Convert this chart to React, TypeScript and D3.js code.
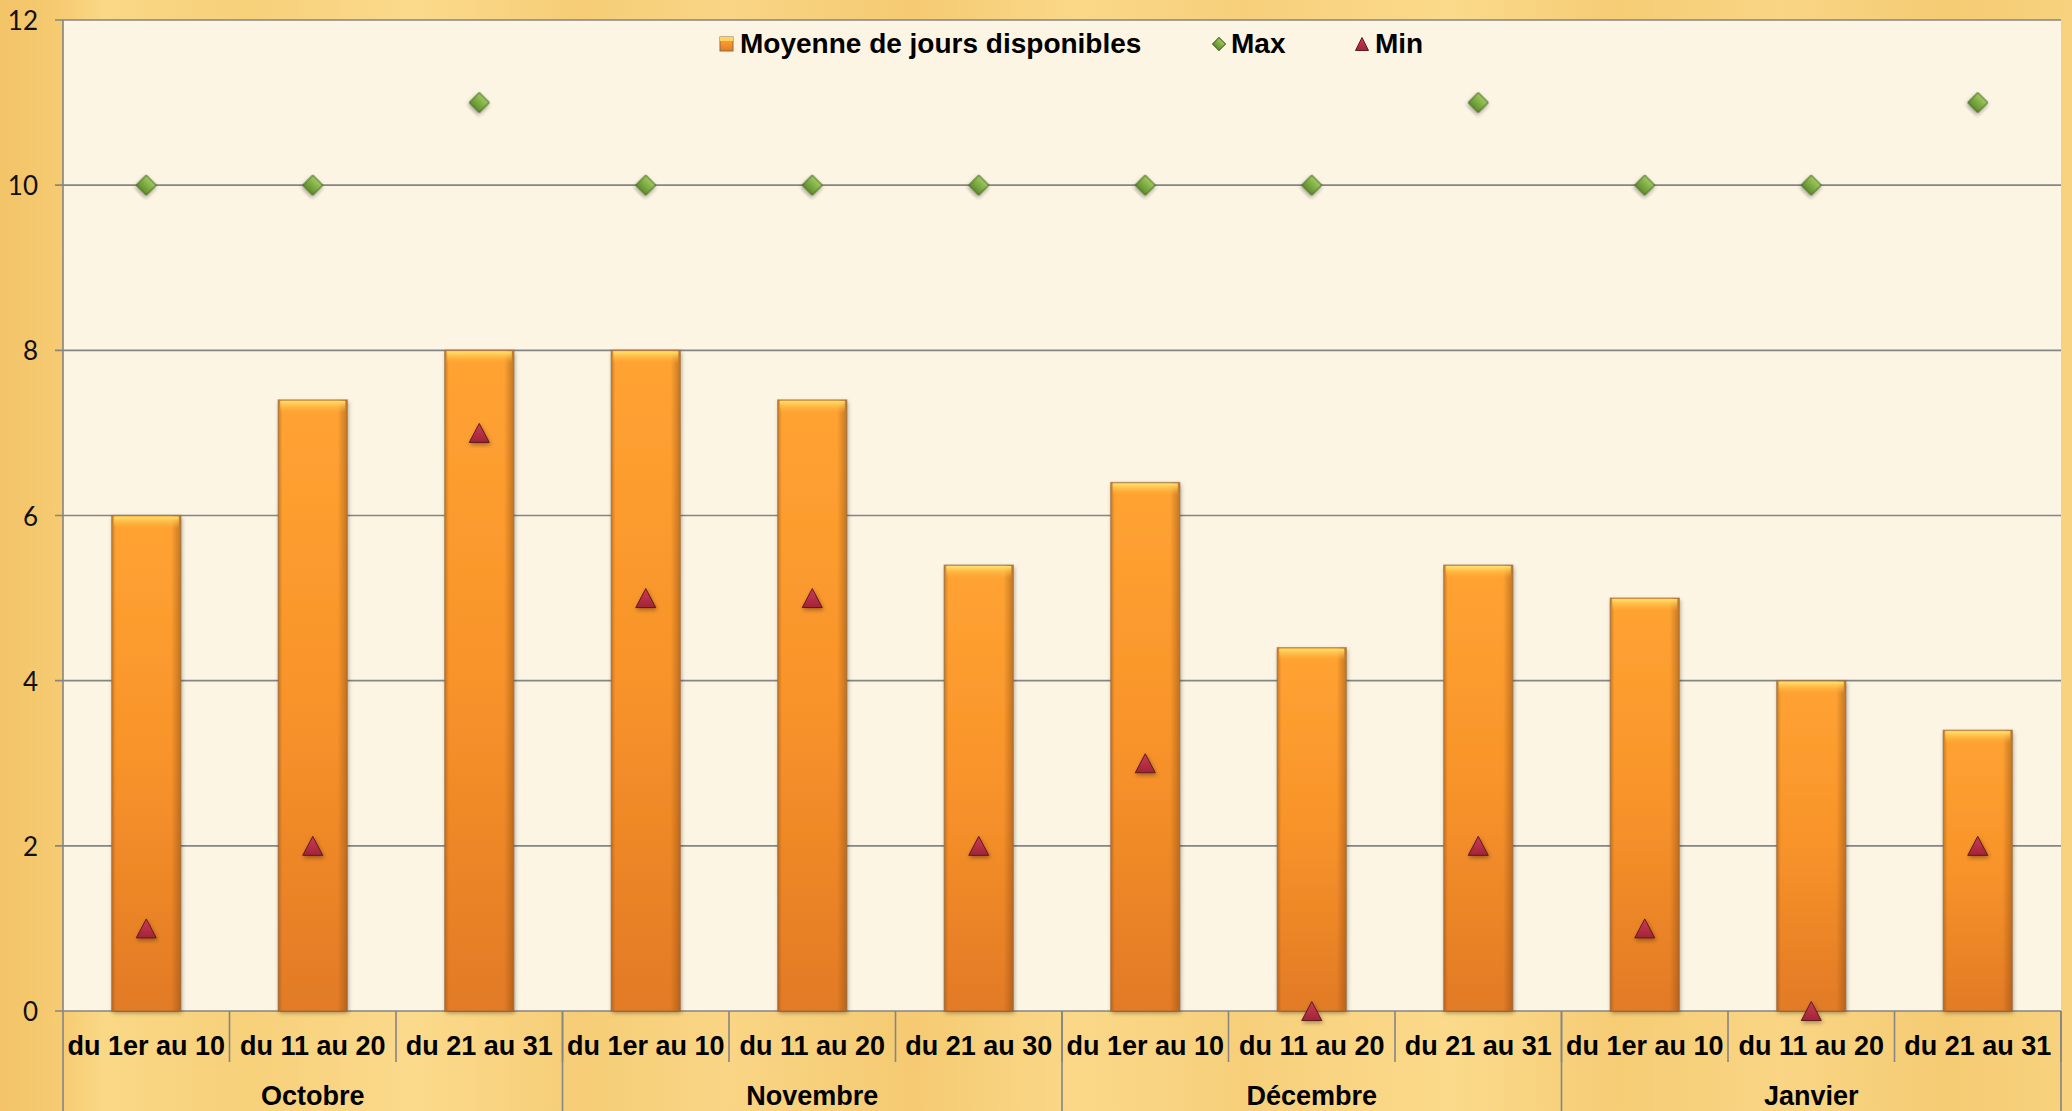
import React from "react";
import * as d3 from "d3";

// periods (inner axis) and months (outer axis)
const periods = [
  "du 1er au 10", "du 11 au 20", "du 21 au 31",
  "du 1er au 10", "du 11 au 20", "du 21 au 30",
  "du 1er au 10", "du 11 au 20", "du 21 au 31",
  "du 1er au 10", "du 11 au 20", "du 21 au 31",
];
const months = ["Octobre", "Novembre", "Décembre", "Janvier"];

const moyenne = [6, 7.4, 8, 8, 7.4, 5.4, 6.4, 4.4, 5.4, 5, 4, 3.4];
const maxValues = [10, 10, 11, 10, 10, 10, 10, 10, 11, 10, 10, 11];
const minValues = [1, 2, 7, 5, 5, 2, 3, 0, 2, 1, 0, 2];

const yTicks = [0, 2, 4, 6, 8, 10, 12];

const width = 2072;
const height = 1111;
const plot = { left: 63, right: 2061, top: 20, bottom: 1011 };

// wood streak stops for the background
const woodStops = [
  [0, "#F3C468"], [0.03, "#F6CB72"], [0.05, "#FAD886"], [0.12, "#F7D07A"],
  [0.2, "#FBDA8C"], [0.28, "#F6CD76"], [0.35, "#F9D585"], [0.44, "#F5CA72"],
  [0.52, "#FAD888"], [0.6, "#F7CF7B"], [0.7, "#FBDA8B"], [0.78, "#F6CC75"],
  [0.86, "#F9D584"], [0.94, "#F5CB73"], [1, "#F8D27E"],
] as const;

// isosceles triangle centred on its bounding box
const trianglePath = (w: number, h: number) => {
  const p = d3.path();
  p.moveTo(0, -h / 2);
  p.lineTo(w / 2, h / 2);
  p.lineTo(-w / 2, h / 2);
  p.closePath();
  return p.toString();
};

const App: React.FC = () => {
  const x = d3
    .scaleBand<number>()
    .domain(d3.range(periods.length))
    .range([plot.left, plot.right])
    .paddingInner(0.585)
    .paddingOuter(0.2925);

  const xMonth = d3
    .scaleBand<string>()
    .domain(months)
    .range([plot.left, plot.right])
    .padding(0);

  const y = d3.scaleLinear().domain([0, 12]).range([plot.bottom, plot.top]);

  const step = x.step();
  const bw = x.bandwidth();
  const diamond = d3.symbol(d3.symbolSquare, 200)()!;
  const triangle = trianglePath(20, 19);

  const boldFont = "'Liberation Sans', Arial, sans-serif";

  return (
    <div style={{ position: "absolute", left: 0, top: 0 }}>
      <svg width={width} height={height} style={{ display: "block" }}>
        <defs>
          <linearGradient id="wood" x1="0" x2="1" y1="0" y2="0">
            {woodStops.map(([o, c], i) => (
              <stop key={i} offset={o} stopColor={c} />
            ))}
          </linearGradient>
          <linearGradient id="barV" x1="0" x2="0" y1="0" y2="1">
            <stop offset="0" stopColor="#FFA332" />
            <stop offset="0.5" stopColor="#F8932A" />
            <stop offset="1" stopColor="#E27A25" />
          </linearGradient>
          <linearGradient id="barH" x1="0" x2="1" y1="0" y2="0">
            <stop offset="0" stopColor="#8A4A10" stopOpacity={0.45} />
            <stop offset="0.06" stopColor="#8A4A10" stopOpacity={0} />
            <stop offset="0.86" stopColor="#8A4A10" stopOpacity={0} />
            <stop offset="1" stopColor="#8A4A10" stopOpacity={0.5} />
          </linearGradient>
          <linearGradient id="barTop" x1="0" x2="0" y1="0" y2="1">
            <stop offset="0" stopColor="#FFE36E" />
            <stop offset="1" stopColor="#FFB53C" stopOpacity={0} />
          </linearGradient>
          <linearGradient id="green" x1="0" x2="0" y1="0" y2="1">
            <stop offset="0" stopColor="#9FCB5E" />
            <stop offset="1" stopColor="#5E8E2C" />
          </linearGradient>
          <linearGradient id="red" x1="0" x2="0" y1="0" y2="1">
            <stop offset="0" stopColor="#CE3A55" />
            <stop offset="1" stopColor="#A02537" />
          </linearGradient>
          <filter id="shadow" x="-30%" y="-30%" width="160%" height="160%">
            <feDropShadow dx="1" dy="2" stdDeviation="2" floodColor="#000" floodOpacity={0.35} />
          </filter>
        </defs>

        {/* background */}
        <rect x={0} y={0} width={width} height={height} fill="url(#wood)" />
        <rect
          x={plot.left}
          y={plot.top}
          width={plot.right - plot.left}
          height={plot.bottom - plot.top}
          fill="#FDF5E3"
        />

        {/* gridlines */}
        {yTicks.map((t) => (
          <g key={`g-${t}`}>
            <line
              x1={plot.left - 8}
              x2={plot.right}
              y1={y(t)}
              y2={y(t)}
              stroke="#858585"
              strokeWidth={1.6}
            />
            <text
              x={38}
              y={y(t)}
              textAnchor="end"
              dominantBaseline="central"
              fontFamily="Lato, 'Open Sans', sans-serif"
              fontSize={26}
              fill="#111"
            >
              {t}
            </text>
          </g>
        ))}
        <line x1={plot.left} x2={plot.left} y1={plot.top} y2={height} stroke="#858585" strokeWidth={1.6} />

        {/* bars */}
        {moyenne.map((v, i) => {
          const bx = x(i)!;
          const by = y(v);
          const bh = plot.bottom - by;
          return (
            <g key={`b-${i}`}>
              <rect x={bx} y={by} width={bw} height={bh} fill="url(#barV)" filter="url(#shadow)" />
              <rect x={bx} y={by} width={bw} height={bh} fill="url(#barH)" />
              <rect x={bx + 2} y={by + 1} width={bw - 4} height={12} fill="url(#barTop)" />
              <rect x={bx} y={by} width={bw} height={bh} fill="none" stroke="#8E6A48" strokeOpacity={0.6} strokeWidth={1.2} />
            </g>
          );
        })}

        {/* max markers */}
        {maxValues.map((v, i) => (
          <path
            key={`mx-${i}`}
            d={diamond}
            transform={`translate(${x(i)! + bw / 2},${y(v)}) rotate(45)`}
            fill="url(#green)"
            stroke="#4A6A25"
            strokeWidth={1}
            filter="url(#shadow)"
          />
        ))}

        {/* min markers */}
        {minValues.map((v, i) => (
          <path
            key={`mn-${i}`}
            d={triangle}
            transform={`translate(${x(i)! + bw / 2},${y(v)})`}
            fill="url(#red)"
            stroke="#5E1A1F"
            strokeWidth={1}
            filter="url(#shadow)"
          />
        ))}

        {/* x axis: periods */}
        {periods.map((p, i) => (
          <g key={`p-${i}`}>
            <line
              x1={plot.left + step * (i + 1)}
              x2={plot.left + step * (i + 1)}
              y1={plot.bottom}
              y2={1062}
              stroke="#858585"
              strokeWidth={1.6}
            />
            <text
              x={x(i)! + bw / 2}
              y={1055}
              textAnchor="middle"
              fontFamily={boldFont}
              fontWeight="bold"
              fontSize={27}
              fill="#000"
            >
              {p}
            </text>
          </g>
        ))}

        {/* x axis: months */}
        {months.map((m) => (
          <g key={m}>
            <line
              x1={xMonth(m)! + xMonth.bandwidth()}
              x2={xMonth(m)! + xMonth.bandwidth()}
              y1={plot.bottom}
              y2={height}
              stroke="#858585"
              strokeWidth={1.6}
            />
            <text
              x={xMonth(m)! + xMonth.bandwidth() / 2}
              y={1105}
              textAnchor="middle"
              fontFamily={boldFont}
              fontWeight="bold"
              fontSize={27}
              fill="#000"
            >
              {m}
            </text>
          </g>
        ))}

        {/* legend */}
        <g fontFamily={boldFont} fontWeight="bold" fontSize={28} fill="#000">
          <rect x={720} y={37} width={13} height={14} fill="url(#barV)" stroke="#8E6A48" strokeWidth={1} />
          <rect x={720} y={37} width={13} height={4} fill="#FFD45E" />
          <text x={740} y={53}>Moyenne de jours disponibles</text>
          <path d={d3.symbol(d3.symbolSquare, 84)()!} transform="translate(1219,44) rotate(45)" fill="url(#green)" stroke="#4A6A25" />
          <text x={1231} y={53}>Max</text>
          <path d={trianglePath(13, 13)} transform="translate(1362,44)" fill="url(#red)" stroke="#5E1A1F" />
          <text x={1375} y={53}>Min</text>
        </g>
      </svg>
    </div>
  );
};

export default App;
